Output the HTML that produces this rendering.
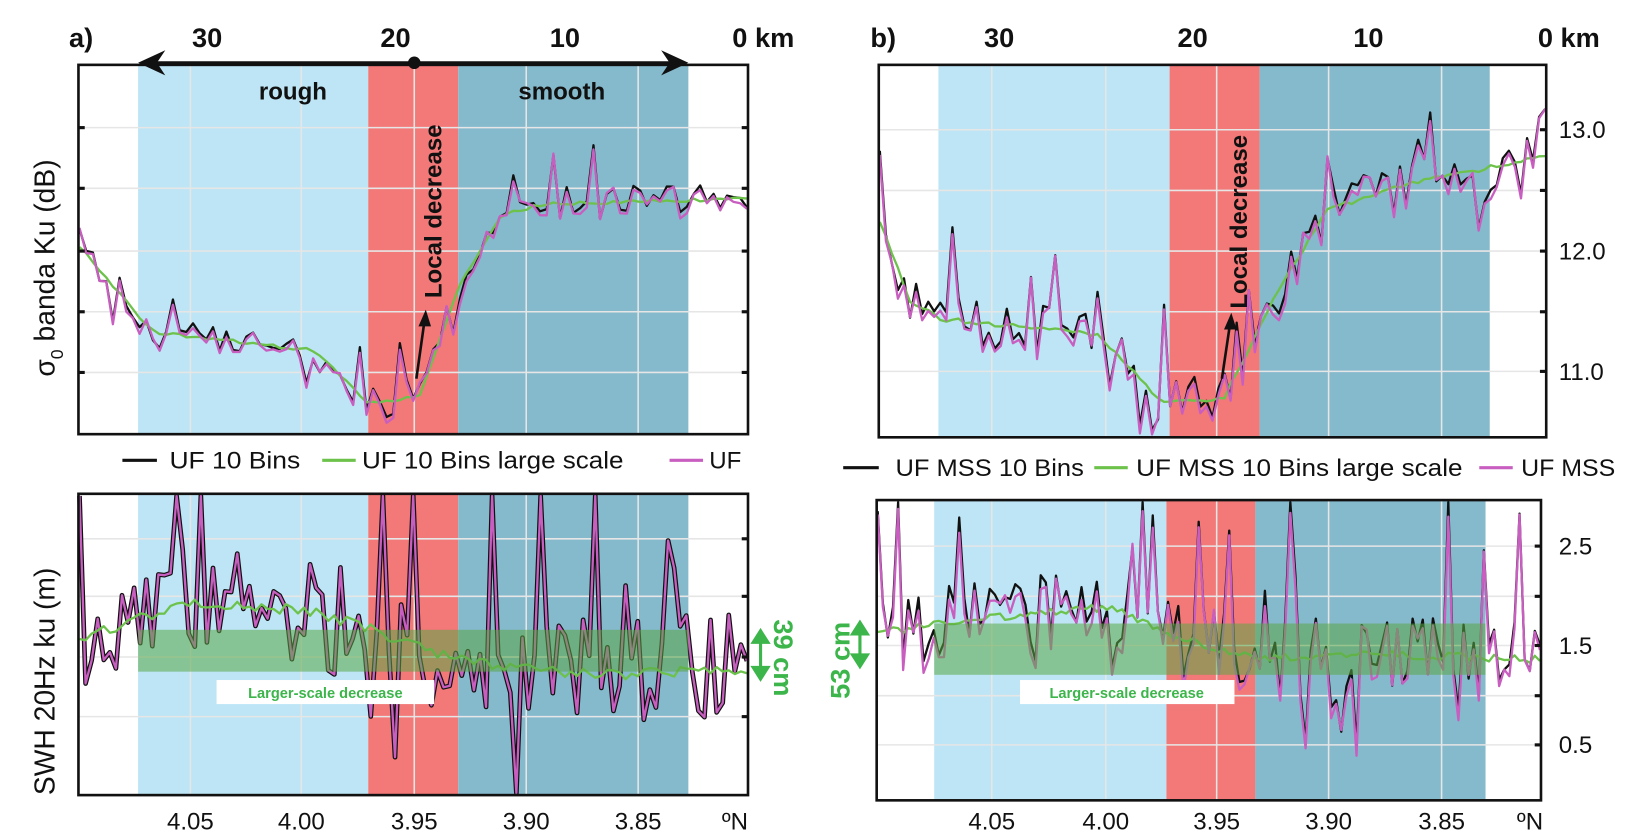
<!DOCTYPE html>
<html><head><meta charset="utf-8"><style>
html,body{margin:0;padding:0;background:#fff;width:1632px;height:838px;overflow:hidden}
svg{display:block}
text{font-family:"Liberation Sans",sans-serif}
</style></head><body>
<svg id="s" width="1632" height="838" viewBox="0 0 1560 801" preserveAspectRatio="none" xmlns="http://www.w3.org/2000/svg">
<rect x="132" y="62" width="220" height="353" fill="#bde5f5"/>
<rect x="352" y="62" width="86" height="353" fill="#f37878"/>
<rect x="438" y="62" width="220" height="353" fill="#85b9cc"/>
<g stroke="#e6e6e6" stroke-width="1.5">
<line x1="182" y1="62" x2="182" y2="415"/><line x1="288" y1="62" x2="288" y2="415"/><line x1="396" y1="62" x2="396" y2="415"/><line x1="503" y1="62" x2="503" y2="415"/><line x1="610" y1="62" x2="610" y2="415"/>
<line x1="75" y1="122" x2="715" y2="122"/><line x1="75" y1="180" x2="715" y2="180"/><line x1="75" y1="240" x2="715" y2="240"/><line x1="75" y1="298" x2="715" y2="298"/><line x1="75" y1="356" x2="715" y2="356"/>
</g>
<rect x="132" y="472" width="220" height="288" fill="#bde5f5"/>
<rect x="352" y="472" width="86" height="288" fill="#f37878"/>
<rect x="438" y="472" width="220" height="288" fill="#85b9cc"/>
<g stroke="#e6e6e6" stroke-width="1.5">
<line x1="182" y1="472" x2="182" y2="760"/><line x1="288" y1="472" x2="288" y2="760"/><line x1="396" y1="472" x2="396" y2="760"/><line x1="503" y1="472" x2="503" y2="760"/><line x1="610" y1="472" x2="610" y2="760"/>
<line x1="75" y1="515" x2="715" y2="515"/><line x1="75" y1="570" x2="715" y2="570"/><line x1="75" y1="628" x2="715" y2="628"/><line x1="75" y1="685" x2="715" y2="685"/>
</g>
<rect x="897" y="62" width="221" height="356" fill="#bde5f5"/>
<rect x="1118" y="62" width="86" height="356" fill="#f37878"/>
<rect x="1204" y="62" width="220" height="356" fill="#85b9cc"/>
<g stroke="#e6e6e6" stroke-width="1.5">
<line x1="948" y1="62" x2="948" y2="418"/><line x1="1057" y1="62" x2="1057" y2="418"/><line x1="1163" y1="62" x2="1163" y2="418"/><line x1="1270" y1="62" x2="1270" y2="418"/><line x1="1378" y1="62" x2="1378" y2="418"/>
<line x1="840" y1="124" x2="1478" y2="124"/><line x1="840" y1="182" x2="1478" y2="182"/><line x1="840" y1="240" x2="1478" y2="240"/><line x1="840" y1="298" x2="1478" y2="298"/><line x1="840" y1="355" x2="1478" y2="355"/>
</g>
<rect x="893" y="478" width="222" height="287" fill="#bde5f5"/>
<rect x="1115" y="478" width="85" height="287" fill="#f37878"/>
<rect x="1200" y="478" width="220" height="287" fill="#85b9cc"/>
<g stroke="#e6e6e6" stroke-width="1.5">
<line x1="948" y1="478" x2="948" y2="765"/><line x1="1057" y1="478" x2="1057" y2="765"/><line x1="1163" y1="478" x2="1163" y2="765"/><line x1="1270" y1="478" x2="1270" y2="765"/><line x1="1378" y1="478" x2="1378" y2="765"/>
<line x1="838" y1="522" x2="1473" y2="522"/><line x1="838" y1="570" x2="1473" y2="570"/><line x1="838" y1="617" x2="1473" y2="617"/><line x1="838" y1="665" x2="1473" y2="665"/><line x1="838" y1="712" x2="1473" y2="712"/>
</g>
<g id="series"></g>
<rect x="132" y="602" width="526" height="40" fill="#5aa845" opacity="0.55"/>
<rect x="893" y="596" width="527" height="49" fill="#5aa845" opacity="0.55"/>
<rect x="207" y="650" width="208" height="23" fill="#fff"/>
<text x="311" y="667" font-size="14" font-weight="bold" fill="#3cb54a" text-anchor="middle">Larger-scale decrease</text>
<rect x="975" y="650" width="205" height="23" fill="#fff"/>
<text x="1077" y="667" font-size="14" font-weight="bold" fill="#3cb54a" text-anchor="middle">Larger-scale decrease</text>
<g fill="none" stroke="#111" stroke-width="2.5">
<rect x="75" y="62" width="640" height="353"/>
<rect x="75" y="472" width="640" height="288"/>
<rect x="840" y="62" width="638" height="356"/>
<rect x="838" y="478" width="635" height="287"/>
</g>
<g stroke="#111" stroke-width="3">
<line x1="75" y1="122" x2="81" y2="122"/><line x1="75" y1="180" x2="81" y2="180"/><line x1="75" y1="240" x2="81" y2="240"/><line x1="75" y1="298" x2="81" y2="298"/><line x1="75" y1="356" x2="81" y2="356"/>
<line x1="709" y1="122" x2="715" y2="122"/><line x1="709" y1="180" x2="715" y2="180"/><line x1="709" y1="240" x2="715" y2="240"/><line x1="709" y1="298" x2="715" y2="298"/><line x1="709" y1="356" x2="715" y2="356"/>
<line x1="1472" y1="124" x2="1478" y2="124"/><line x1="1472" y1="182" x2="1478" y2="182"/><line x1="1472" y1="240" x2="1478" y2="240"/><line x1="1472" y1="298" x2="1478" y2="298"/><line x1="1472" y1="355" x2="1478" y2="355"/>
<line x1="1467" y1="522" x2="1473" y2="522"/><line x1="1467" y1="570" x2="1473" y2="570"/><line x1="1467" y1="617" x2="1473" y2="617"/><line x1="1467" y1="665" x2="1473" y2="665"/><line x1="1467" y1="712" x2="1473" y2="712"/>
<line x1="709" y1="515" x2="715" y2="515"/><line x1="709" y1="570" x2="715" y2="570"/><line x1="709" y1="628" x2="715" y2="628"/><line x1="709" y1="685" x2="715" y2="685"/>
</g>
<line x1="140" y1="60" x2="650" y2="60" stroke="#111" stroke-width="3"/>
<polygon points="132,60 158,48 150,60 158,72" fill="#111"/>
<polygon points="658,60 632,48 640,60 632,72" fill="#111"/>
<circle cx="396" cy="60" r="6" fill="#111"/>
<g font-size="26" font-weight="bold" fill="#111">
<text x="66" y="45">a)</text>
<text x="198" y="45" text-anchor="middle">30</text>
<text x="378" y="45" text-anchor="middle">20</text>
<text x="540" y="45" text-anchor="middle">10</text>
<text x="700" y="45">0 km</text>
<text x="832" y="45">b)</text>
<text x="955" y="45" text-anchor="middle">30</text>
<text x="1140" y="45" text-anchor="middle">20</text>
<text x="1308" y="45" text-anchor="middle">10</text>
<text x="1470" y="45">0 km</text>
</g>
<g font-size="23" font-weight="bold" fill="#111">
<text x="280" y="95" text-anchor="middle">rough</text>
<text x="537" y="95" text-anchor="middle">smooth</text>
<text transform="translate(422,285) rotate(-90)">Local decrease</text>
<text transform="translate(1192,295) rotate(-90)">Local decrease</text>
</g>
<line x1="398" y1="362" x2="406" y2="305" stroke="#111" stroke-width="2.5"/>
<polygon points="407,296 400,312 412,312" fill="#111"/>
<line x1="1168" y1="362" x2="1176" y2="308" stroke="#111" stroke-width="2.5"/>
<polygon points="1177,299 1170,315 1182,315" fill="#111"/>
<g font-size="23" fill="#111">
<text x="1490" y="132">13.0</text><text x="1490" y="248">12.0</text><text x="1490" y="363">11.0</text>
<text x="1490" y="530">2.5</text><text x="1490" y="625">1.5</text><text x="1490" y="720">0.5</text>
<text x="182" y="793" text-anchor="middle">4.05</text><text x="288" y="793" text-anchor="middle">4.00</text><text x="396" y="793" text-anchor="middle">3.95</text><text x="503" y="793" text-anchor="middle">3.90</text><text x="610" y="793" text-anchor="middle">3.85</text><text x="690" y="793">ºN</text>
<text x="948" y="793" text-anchor="middle">4.05</text><text x="1057" y="793" text-anchor="middle">4.00</text><text x="1163" y="793" text-anchor="middle">3.95</text><text x="1270" y="793" text-anchor="middle">3.90</text><text x="1378" y="793" text-anchor="middle">3.85</text><text x="1450" y="793">ºN</text>
</g>
<g font-size="27" fill="#111">
<text transform="translate(52,360) rotate(-90)">σ<tspan font-size="17" dy="8">0</tspan><tspan dy="-8"> banda Ku (dB)</tspan></text>
<text transform="translate(52,760) rotate(-90)">SWH 20Hz ku (m)</text>
</g>
<g font-size="26" font-weight="bold" fill="#3cb54a">
<text transform="translate(740,592) rotate(90)">39 cm</text>
<text transform="translate(812,668) rotate(-90)">53 cm</text>
</g>
<g stroke="#3cb54a" stroke-width="3" fill="#3cb54a">
<line x1="727" y1="610" x2="727" y2="642"/><polygon points="727,603 720,614 734,614"/><polygon points="727,649 720,638 734,638"/>
<line x1="822" y1="602" x2="822" y2="630"/><polygon points="822,595 815,606 829,606"/><polygon points="822,637 815,626 829,626"/>
</g>
<g font-size="23" fill="#111">
<line x1="117" y1="440" x2="150" y2="440" stroke="#111" stroke-width="3"/><text x="162" y="448" textLength="125" lengthAdjust="spacingAndGlyphs">UF 10 Bins</text>
<line x1="308" y1="440" x2="340" y2="440" stroke="#6cc24a" stroke-width="3"/><text x="346" y="448" textLength="250" lengthAdjust="spacingAndGlyphs">UF 10 Bins large scale</text>
<line x1="640" y1="440" x2="672" y2="440" stroke="#c85fc0" stroke-width="3"/><text x="678" y="448">UF</text>
<line x1="806" y1="447" x2="840" y2="447" stroke="#111" stroke-width="3"/><text x="856" y="455" textLength="180" lengthAdjust="spacingAndGlyphs">UF MSS 10 Bins</text>
<line x1="1046" y1="447" x2="1078" y2="447" stroke="#6cc24a" stroke-width="3"/><text x="1086" y="455" textLength="312" lengthAdjust="spacingAndGlyphs">UF MSS 10 Bins large scale</text>
<line x1="1414" y1="447" x2="1446" y2="447" stroke="#c85fc0" stroke-width="3"/><text x="1454" y="455" textLength="90" lengthAdjust="spacingAndGlyphs">UF MSS</text>
</g>
</svg>
<script>
(function(){
var NS="http://www.w3.org/2000/svg",g=document.getElementById("series");
var seed=11;function r(){seed=(seed*16807)%2147483647;return seed/2147483647;}
function interp(pts,x){for(var i=0;i<pts.length-1;i++){if(x<=pts[i+1][0]){var t=(x-pts[i][0])/(pts[i+1][0]-pts[i][0]);return pts[i][1]+t*(pts[i+1][1]-pts[i][1]);}}return pts[pts.length-1][1];}
function path(a,col,w){var p=document.createElementNS(NS,"path");p.setAttribute("d","M"+a.map(function(q){return q[0].toFixed(1)+","+q[1].toFixed(1)}).join("L"));p.setAttribute("fill","none");p.setAttribute("stroke",col);p.setAttribute("stroke-width",w);p.setAttribute("stroke-linejoin","round");g.appendChild(p);}
function panel(x0,x1,n,trend,amp,ymin,ymax,mode,up,dn){
 var K=[],M=[],G=[];
 for(var i=0;i<=n;i++){var x=x0+(x1-x0)*i/n,t=interp(trend,x);
  var v=(r()-0.5)*2*amp; if(r()<dn)v+=amp*1.5; if(r()<up)v-=amp*(2+r()*2);
  var y=Math.max(ymin,Math.min(ymax,t+v));
  K.push([x,y]);M.push([x,Math.max(ymin,Math.min(ymax,mode?y:(y+(r()-0.2)*amp*0.5)))]);
  G.push([x,t+(r()-0.5)*amp*0.2]);}
 if(mode){path(K,"#111",4.5);path(M,"#c85fc0",2.2);path(G,"#6cc24a",2.2);}
 else{path(K,"#111",2.2);path(G,"#6cc24a",2.2);path(M,"#c85fc0",2.2);}
}
panel(76,714,100,[[76,235],[130,300],[150,318],[300,335],[352,385],[400,380],[440,270],[480,205],[520,195],[715,190]],16,64,414,false,0.08,0.05);
panel(841,1477,110,[[841,210],[870,290],[900,305],[1050,320],[1110,385],[1170,380],[1220,280],[1270,200],[1350,175],[1477,150]],24,64,417,false,0.15,0.1);
panel(76,714,110,[[76,610],[180,575],[300,585],[350,600],[420,625],[500,640],[600,645],[715,640]],55,474,758,true,0.08,0.05);
panel(839,1472,130,[[839,605],[950,590],[1060,580],[1115,605],[1200,630],[1300,625],[1472,630]],38,480,763,false,0.08,0.08);
})();
</script>
</body></html>
